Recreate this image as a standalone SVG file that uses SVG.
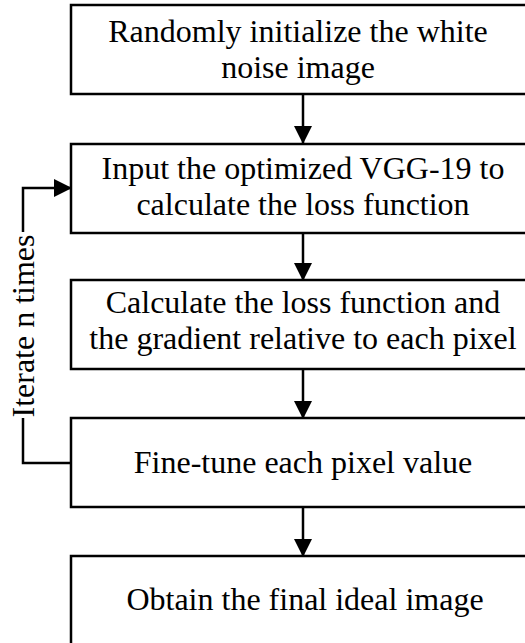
<svg xmlns="http://www.w3.org/2000/svg" width="525" height="643" viewBox="0 0 525 643">
  <style>
    .box { fill: #ffffff; stroke: #000000; stroke-width: 2.5; }
    .lbl { font-family: "Liberation Serif", "Times New Roman", serif; font-size: 32px; fill: #000000; text-anchor: middle; }
    .link { fill: none; stroke: #000000; stroke-width: 2.5; }
  </style>
  <defs>
    <marker id="arrow" markerWidth="18" markerHeight="18" refX="17" refY="9" orient="auto" markerUnits="userSpaceOnUse">
      <path d="M0,0 L18,9 L0,18 Z" fill="#000000"/>
    </marker>
  </defs>
  <rect width="525" height="643" fill="#ffffff"/>

  <g id="connectors">
    <line class="link" x1="303" y1="94" x2="303" y2="143" marker-end="url(#arrow)"/>
    <line class="link" x1="303" y1="233" x2="303" y2="280" marker-end="url(#arrow)"/>
    <line class="link" x1="303" y1="369" x2="303" y2="418" marker-end="url(#arrow)"/>
    <line class="link" x1="303" y1="507" x2="303" y2="556" marker-end="url(#arrow)"/>
    <polyline class="link" points="71,463 23,463 23,188 71,188" marker-end="url(#arrow)"/>
    <g id="loop-label">
      <rect x="12" y="232" width="24" height="186" fill="#ffffff"/>
      <text class="lbl" transform="translate(34,326) rotate(-90)" x="0" y="0">Iterate n times</text>
    </g>
  </g>

  <g id="init">
    <rect class="box" x="71" y="5" width="470" height="89"/>
    <text class="lbl" x="298" y="42">Randomly initialize the white</text>
    <text class="lbl" x="298" y="78">noise image</text>
  </g>

  <g id="vgg">
    <rect class="box" x="71" y="144" width="470" height="89"/>
    <text class="lbl" x="303" y="179">Input the optimized VGG-19 to</text>
    <text class="lbl" x="303" y="215">calculate the loss function</text>
  </g>

  <g id="gradient">
    <rect class="box" x="71" y="280" width="470" height="89"/>
    <text class="lbl" x="303" y="313">Calculate the loss function and</text>
    <text class="lbl" x="303" y="349">the gradient relative to each pixel</text>
  </g>

  <g id="finetune">
    <rect class="box" x="71" y="418" width="470" height="89"/>
    <text class="lbl" x="303" y="473">Fine-tune each pixel value</text>
  </g>

  <g id="final">
    <rect class="box" x="71" y="556" width="470" height="100"/>
    <text class="lbl" x="305" y="610">Obtain the final ideal image</text>
  </g>
</svg>
